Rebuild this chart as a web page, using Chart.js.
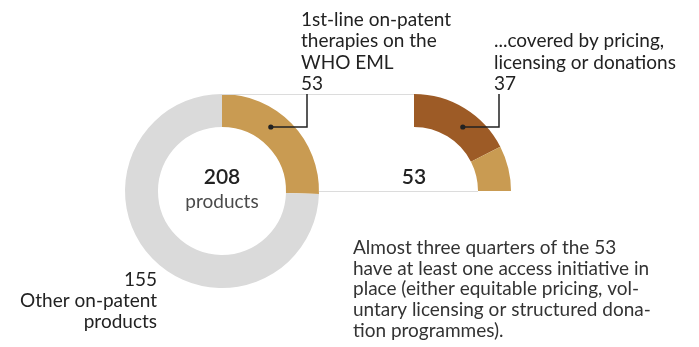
<!DOCTYPE html>
<html>
<head>
<meta charset="utf-8">
<script src="https://cdn.jsdelivr.net/npm/chart.js@4.4.0/dist/chart.umd.min.js"></script>
<style>
  html, body { margin: 0; padding: 0; background: #fff; }
  #wrap { position: relative; width: 699px; height: 347px; }
  canvas { position: absolute; left: 0; top: 0; }
</style>
</head>
<body>
<div id="wrap">
  <canvas id="total" width="699" height="347"></canvas>
  <canvas id="eml" width="699" height="347"></canvas>
</div>
<script>
// all on-patent products, split into first-line WHO EML therapies and the rest
const totalLabels = ['1st-line on-patent therapies on the WHO EML', 'Other on-patent products'];
const totalValues = [53, 155];

// the 53 EML therapies, split by access initiative coverage
const emlLabels = ['Covered by pricing, licensing or donations', 'Not covered'];
const emlValues = [37, 16];

const GOLD = '#c99b52';
const BROWN = '#9d5b26';
const GREY = '#dadada';
const INK = '#222';
const FONT = 'Lato, "Open Sans", sans-serif';

const emlNote = [
  'Almost three quarters of the 53',
  'have at least one access initiative in',
  'place (either equitable pricing, vol-',
  'untary licensing or structured dona-',
  'tion programmes).'
];

const baseOptions = {
  responsive: false,
  animation: false,
  plugins: { legend: { display: false }, tooltip: { enabled: false } },
  cutout: '66%'
};

const totalChart = new Chart(document.getElementById('total'), {
  type: 'doughnut',
  data: {
    labels: totalLabels,
    datasets: [{ data: totalValues, backgroundColor: [GOLD, GREY], borderWidth: 0 }]
  },
  options: {
    ...baseOptions,
    layout: { padding: { left: 125, right: 380, top: 94, bottom: 59 } }
  }
});

// point on the ring's middle, level with the inner top edge
function leaderPoint(arc) {
  const mid = (arc.innerRadius + arc.outerRadius) / 2;
  const dy = arc.innerRadius;
  return { x: arc.x + Math.sqrt(mid * mid - dy * dy), y: arc.y - dy };
}

function lines(ctx, arr, x, y, step) {
  arr.forEach((t, i) => ctx.fillText(t, x, y + i * step));
}

const annotations = {
  id: 'annotations',
  afterDraw(chart) {
    const ctx = chart.ctx;
    const big = totalChart.getDatasetMeta(0).data[0];
    const small = chart.getDatasetMeta(0).data[0];
    ctx.save();

    // connectors between the two rings
    ctx.strokeStyle = '#dcdcdc';
    ctx.lineWidth = 1;
    ctx.beginPath();
    ctx.moveTo(big.x, big.y - big.outerRadius + 0.5);
    ctx.lineTo(small.x, small.y - small.outerRadius + 0.5);
    ctx.moveTo(big.x + big.outerRadius, big.y + 0.5);
    ctx.lineTo(small.x + small.innerRadius, small.y + 0.5);
    ctx.stroke();

    // leader lines
    ctx.strokeStyle = INK;
    ctx.fillStyle = INK;
    ctx.lineWidth = 1.5;
    [[big, 307], [small, 499]].forEach(([arc, lx]) => {
      const p = leaderPoint(arc);
      ctx.beginPath();
      ctx.moveTo(p.x, p.y);
      ctx.lineTo(lx, p.y);
      ctx.lineTo(lx, arc.y - arc.outerRadius);
      ctx.stroke();
      ctx.beginPath();
      ctx.arc(p.x, p.y, 2.6, 0, Math.PI * 2);
      ctx.fill();
    });

    // centre labels
    ctx.textAlign = 'center';
    ctx.fillStyle = INK;
    ctx.font = '600 21px ' + FONT;
    ctx.fillText(String(totalValues[0] + totalValues[1]), big.x, 184);
    ctx.fillText(String(emlValues[0] + emlValues[1]), small.x, 184);
    ctx.fillStyle = '#4a4a4a';
    ctx.font = '19px ' + FONT;
    ctx.fillText('products', big.x, 208);

    // callouts
    ctx.fillStyle = INK;
    ctx.font = '19px ' + FONT;
    ctx.textAlign = 'left';
    lines(ctx, ['1st-line on-patent', 'therapies on the', 'WHO EML', String(totalValues[0])], 301, 26, 21.3);
    lines(ctx, ['...covered by pricing,', 'licensing or donations', String(emlValues[0])], 494, 47, 21.5);
    ctx.textAlign = 'right';
    lines(ctx, [String(totalValues[1]), 'Other on-patent', 'products'], 157, 286, 21);

    ctx.fillStyle = '#333';
    ctx.font = '19px ' + FONT;
    ctx.textAlign = 'left';
    lines(ctx, emlNote, 353, 254, 20.7);
    ctx.restore();
  }
};

new Chart(document.getElementById('eml'), {
  type: 'doughnut',
  data: {
    labels: emlLabels,
    datasets: [{ data: emlValues, backgroundColor: [BROWN, GOLD], borderWidth: 0 }]
  },
  options: {
    ...baseOptions,
    rotation: 0,
    circumference: 90,
    layout: { padding: { left: 414, right: 188, top: 94, bottom: 156 } }
  },
  plugins: [annotations]
});
</script>
</body>
</html>
